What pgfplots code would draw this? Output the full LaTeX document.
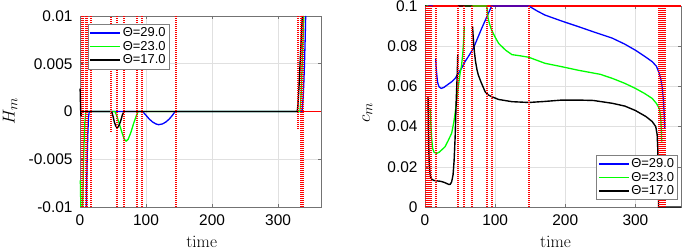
\documentclass[border=0pt]{standalone}
\usepackage[no-math]{fontspec}
\setmainfont{Liberation Sans}
\usepackage{pgfplots}
\pgfplotsset{compat=1.18}
\definecolor{mblue}{rgb}{0,0,1}
\definecolor{mgreen}{rgb}{0,1,0}
\definecolor{mred}{rgb}{1,0,0}
\pgfplotsset{
  mstyle/.style={
    scale only axis,
    clip=false,
    xmin=0, xmax=365,
    xtick={0,100,200,300},
    xticklabels={0,100,200,300},
    scaled ticks=false,
    tick align=inside,
    xtick pos=both, ytick pos=both,
    major tick length=3bp,
    axis line style={black!55, line width=0.5bp},
    tick style={black!55, line width=0.5bp},
    grid=major,
    major grid style={black!12, line width=0.5bp},
    ticklabel style={font=\fontsize{15.5}{18}\selectfont},
    xticklabel style={yshift=-4.5bp},
    yticklabel style={xshift=-4bp},
    unbounded coords=jump,
    legend cell align=left,
    legend style={font=\fontsize{13}{14}\selectfont, draw=black!50, fill=white,
      line width=0.5bp, inner sep=1.5pt, row sep=-1pt},
    legend image code/.code={\draw[#1] (0,0) -- (1.05cm,0);},
  },
  cblue/.style={mblue, line width=1.3pt},
  cgreen/.style={mgreen, line width=1.3pt},
  cblack/.style={black, line width=1.4pt},
  rdot/.style={draw=mred, line width=2bp, dash pattern=on 1bp off 1bp, forget plot},
  rline/.style={draw=mred, line width=1.5pt, forget plot},
}
\begin{document}
\begin{tikzpicture}
% ---------------- left: H_m ----------------
\begin{axis}[mstyle,
  at={(80bp,43bp)}, anchor=south west,
  width=241bp, height=191bp,
  ymin=-0.01, ymax=0.01,
  ytick={-0.01,-0.005,0,0.005,0.01},
  yticklabels={-0.01,-0.005,0,0.005,0.01},
  xlabel={\fontsize{18}{20}\selectfont$\mathrm{time}$},
  xlabel style={at={(axis description cs:0.505,-0.185)}, anchor=center},
  ylabel={\fontsize{19}{21}\selectfont$H_m$},
  ylabel style={at={(axis description cs:-0.29,0.5)}, anchor=center},
  legend style={at={(axis description cs:0.033,0.958)}, anchor=north west},
]
\addplot[rline] coordinates {(329,0) (365,0)};
\addplot[cblue] coordinates {
 (9.6,-0.01) (10,-0.008) (11,-0.0045) (12,-0.002) (13,-0.0006) (14,0) (95,0)
 (100,-0.0004) (105,-0.0008) (110,-0.0011) (115,-0.0013) (119,-0.00138) (125,-0.0013)
 (130,-0.0011) (135,-0.0008) (140,-0.0004) (144,0) (336,0) (337,0.0005) (338,0.0015)
 (339,0.003) (340,0.005) (341,0.0075) (341.8,0.01)
};
\addlegendentry{Θ=29.0}
\addplot[cgreen] coordinates {
 (0.5,-0.0072) (1,-0.009) (1.4,-0.01) (1.4,nan)
 (4.1,-0.01) (4.5,-0.0085) (5.5,-0.005)
 (6.5,-0.0025) (7.5,-0.001) (8.5,-0.0002) (9.5,0) (53,0) (56,-0.0005) (60,-0.0014)
 (64,-0.0023) (67,-0.0029) (70,-0.0031) (73,-0.0029) (77,-0.0022) (81,-0.0013)
 (85,-0.0005) (88,0) (333,0) (334,0.0008) (335,0.002) (336,0.004) (337,0.006)
 (338,0.008) (339,0.01)
};
\addlegendentry{Θ=23.0}
\addplot[cblack] coordinates {
 (0.2,0.0024) (0.6,0.0012) (1,0.0002) (1.5,-0.0005) (2,-0.0002) (2.5,0) (48,0)
 (50,-0.0005) (52,-0.0011) (54,-0.0015) (56,-0.0017) (58,-0.0016) (60,-0.0013)
 (62,-0.0009) (64,-0.0004) (66.5,0) (329,0) (330,0.0006) (331,0.0018) (332,0.003)
 (333,0.0045) (334,0.006) (335,0.0075) (336,0.009) (336.7,0.01)
};
\addlegendentry{Θ=17.0}
\addplot[rdot] coordinates {
 (2.5,-0.01) (2.5,0.01) (2.5,nan)
 (5,-0.01) (5,0.01) (5,nan)
 (8.6,-0.01) (8.6,0.01) (8.6,nan)
 (11,-0.01) (11,0.01) (11,nan)
 (16.6,-0.01) (16.6,0.01) (16.6,nan)
 (47,-0.0021) (47,0.01) (47,nan)
 (55.5,-0.01) (55.5,0.01) (55.5,nan)
 (66.6,-0.01) (66.6,0.01) (66.6,nan)
 (87,-0.01) (87,0.01) (87,nan)
 (94,-0.01) (94,0.01) (94,nan)
 (146,-0.01) (146,0.01) (146,nan)
 (330,-0.0018) (330,0.01) (330,nan)
 (334,-0.01) (334,0.01) (334,nan)
 (337.5,-0.01) (337.5,0.01)
};
\end{axis}
% ---------------- right: c_m ----------------
\begin{axis}[mstyle,
  at={(425bp,43bp)}, anchor=south west,
  width=256bp, height=201bp,
  ymin=0, ymax=0.1,
  ytick={0,0.02,0.04,0.06,0.08,0.1},
  yticklabels={0,0.02,0.04,0.06,0.08,0.1},
  xlabel={\fontsize{18}{20}\selectfont$\mathrm{time}$},
  xlabel style={at={(axis description cs:0.51,-0.175)}, anchor=center},
  ylabel={\fontsize{19}{21}\selectfont$c_m$},
  ylabel style={at={(axis description cs:-0.225,0.47)}, anchor=center},
  legend style={at={(axis description cs:0.988,0.035)}, anchor=south east},
]
\addplot[rline] coordinates {(0,0.1) (365,0.1)};
\addplot[cblue] coordinates {
 (0,0.1) (11,0.1) (11,nan)
 (15.2,0.074) (16,0.069) (17,0.065) (18,0.062) (20,0.0598) (23,0.059) (27,0.0595)
 (32,0.0608) (38,0.0623) (43,0.064) (47.6,0.0665) (52,0.069) (57,0.0723) (63,0.0755)
 (69,0.079) (75,0.084) (81,0.089) (88,0.0945) (95,0.1) (148,0.1) (160,0.0975)
 (171,0.0955) (195,0.0925) (219,0.0897) (243,0.0868) (267,0.084) (285,0.081)
 (300,0.078) (313,0.075) (324,0.0723) (330,0.07) (334,0.0665) (336,0.064)
 (338,0.06) (340,0.053) (341,0.046) (342,0.039)
};
\addlegendentry{Θ=29.0}
\addplot[cgreen] coordinates {
 (0,0.1) (4.4,0.1) (4.4,nan)
 (7.5,0.049) (8.5,0.04) (9.5,0.034) (11,0.029) (13,0.0272) (16.7,0.0267) (20,0.0272)
 (25,0.0288) (28.6,0.030) (33,0.033) (38,0.0367) (41,0.042) (42.9,0.0466) (45.2,0.053)
 (47.6,0.06) (50,0.0665) (52,0.07) (54,0.077) (55.5,0.085) (56,0.09) (56,nan)
 (56,0.1) (88,0.1) (89,0.097) (90,0.094) (92,0.091) (95,0.088) (100,0.0845)
 (105,0.0814) (115,0.078) (124,0.0758) (136,0.0752) (148,0.0745) (171,0.0715)
 (195,0.0698) (219,0.068) (250,0.066) (267,0.064) (285,0.0615) (300,0.059)
 (313,0.0565) (324,0.054) (330,0.0515) (334,0.049) (336,0.045) (337,0.038)
 (337.5,0.0325)
};
\addlegendentry{Θ=23.0}
\addplot[cblack] coordinates {
 (0,0.1) (1.8,0.1) (1.8,nan)
 (4.3,0.055) (4.8,0.04) (5.3,0.03) (6,0.022) (7,0.017) (8,0.0148) (10,0.0137)
 (13,0.0132) (17,0.013) (22,0.0128) (27,0.0123) (31,0.0117) (34,0.0112) (36,0.0113)
 (38,0.0125) (40,0.016) (41.5,0.023) (43,0.035) (44.5,0.053) (45.5,0.062)
 (46.2,0.069) (46.7,0.076) (46.7,nan)
 (47,0.1) (67.5,0.1) (67.5,nan)
 (67.8,0.0897) (69,0.083) (70.5,0.077) (72,0.0725) (74,0.0685) (76,0.0657)
 (80,0.062) (85.7,0.0574) (90,0.0558) (95,0.0549) (105,0.0535) (124,0.0524)
 (148,0.052) (170,0.0525) (195,0.0532) (219,0.0532) (240,0.053) (267,0.0516)
 (285,0.0502) (300,0.048) (315,0.045) (324,0.0425) (329,0.04) (331,0.036)
 (332,0.028) (332.5,0.015) (333,0) (365,0)
};
\addlegendentry{Θ=17.0}
\addplot[rdot] coordinates {
 (1.9,0) (1.9,0.1) (1.9,nan)
 (3.8,0) (3.8,0.1) (3.8,nan)
 (5.7,0) (5.7,0.1) (5.7,nan)
 (8.1,0) (8.1,0.1) (8.1,nan)
 (15.2,0) (15.2,0.1) (15.2,nan)
 (46.7,0) (46.7,0.1) (46.7,nan)
 (55.7,0) (55.7,0.1) (55.7,nan)
 (67.6,0) (67.6,0.1) (67.6,nan)
 (89,0) (89,0.1) (89,nan)
 (95.2,0) (95.2,0.1) (95.2,nan)
 (148.6,0) (148.6,0.1) (148.6,nan)
 (333.5,0) (333.5,0.1) (333.5,nan)
 (336.5,0) (336.5,0.1) (336.5,nan)
 (339.5,0) (339.5,0.1) (339.5,nan)
 (342.5,0) (342.5,0.1)
};
\end{axis}
\pgfresetboundingbox
\path[use as bounding box] (0,0) rectangle (685bp,250bp);
\end{tikzpicture}
\end{document}
